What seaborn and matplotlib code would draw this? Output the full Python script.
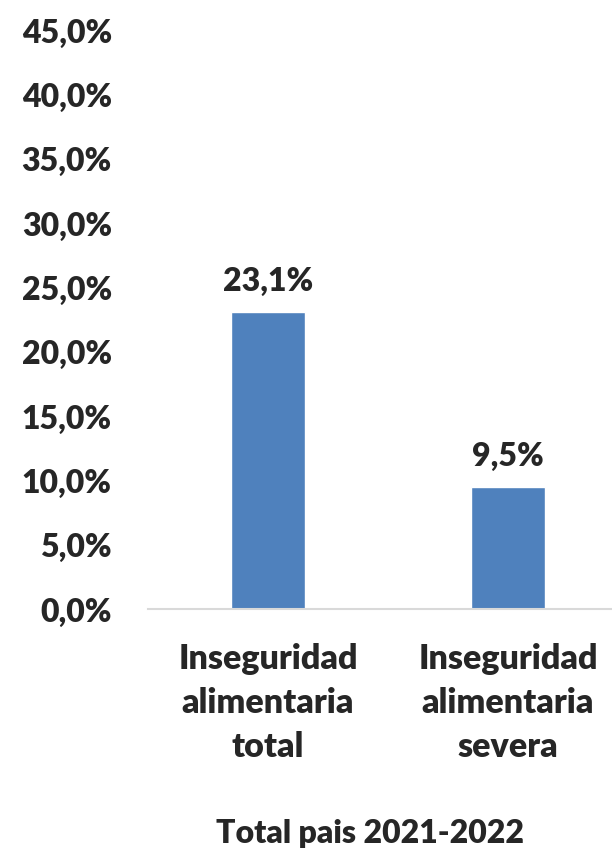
import matplotlib
matplotlib.use('Agg')
import matplotlib.pyplot as plt
import seaborn as sns
import pandas as pd

# Data
categories = ['Inseguridad\nalimentaria\ntotal', 'Inseguridad\nalimentaria\nsevera']
values = [23.1, 9.5]
value_labels = ['23,1%', '9,5%']
y_ticks = [0, 5, 10, 15, 20, 25, 30, 35, 40, 45]
x_title = 'Total pais 2021-2022'

sns.set_style('white')
plt.rcParams['font.family'] = ['Lato', 'DejaVu Sans']
W = 'heavy'
FS = 23

df = pd.DataFrame({'cat': categories, 'val': values})

fig = plt.figure(figsize=(6.12, 8.51), dpi=100)
ax = fig.add_axes([148 / 612, 0.2838, 1 - 148 / 612, 0.964 - 0.2838])

sns.barplot(data=df, x='cat', y='val', color='#4f81bd', width=0.31,
            saturation=1, ax=ax)

ax.set_xlim(-0.5, 1.433)
ax.set_ylim(0, 45)
ax.set_yticks(y_ticks)
ax.set_yticklabels([f'{t:.1f}%'.replace('.', ',') for t in y_ticks],
                   fontsize=FS, fontweight=W)
ax.tick_params(axis='y', length=0, pad=26)
ax.tick_params(axis='x', length=0, pad=24)
for lbl in ax.get_xticklabels():
    lbl.set_fontsize(24.5)
    lbl.set_fontweight(W)
    lbl.set_linespacing(1.47)

ax.set_xlabel('')
ax.set_ylabel('')
for side in ['top', 'right', 'left']:
    ax.spines[side].set_visible(False)
ax.spines['bottom'].set_color('#d9d9d9')
ax.spines['bottom'].set_linewidth(1.5)

for i, (v, txt) in enumerate(zip(values, value_labels)):
    ax.annotate(txt, (i, v), xytext=(0, 22), textcoords='offset points',
                ha='center', va='center', fontsize=FS, fontweight=W)

fig.text(370 / 612, 1 - 833 / 851, x_title, ha='center', va='center',
         fontsize=FS, fontweight=W)

fig.savefig('out.png', dpi=100)
